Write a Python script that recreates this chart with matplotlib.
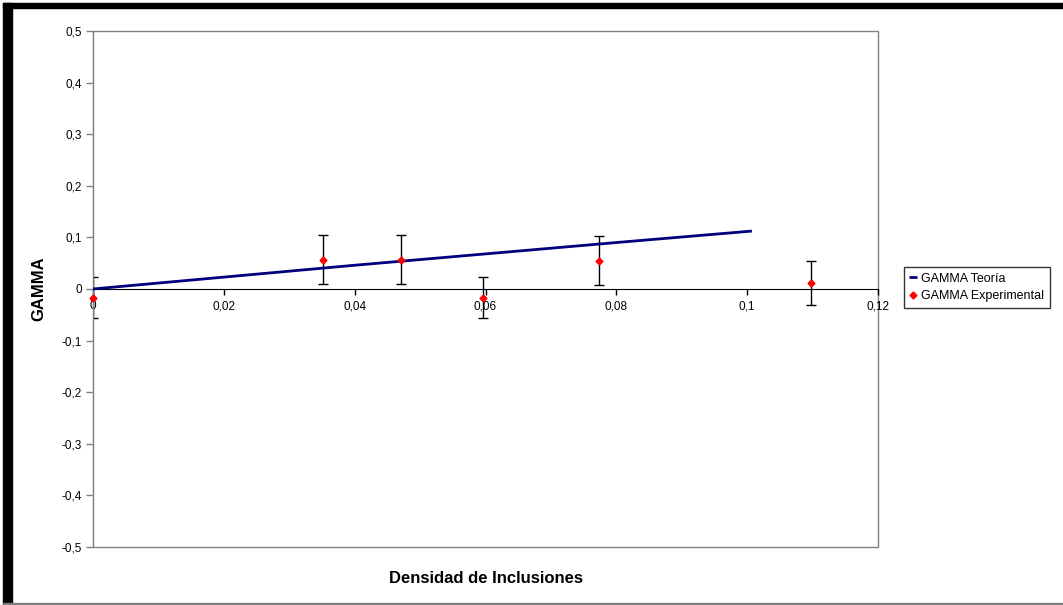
import matplotlib
matplotlib.use("Agg")
import matplotlib.pyplot as plt
from matplotlib.patches import Rectangle
from matplotlib.lines import Line2D
from matplotlib.ticker import FuncFormatter

plt.rcParams["font.family"] = ["Liberation Sans", "DejaVu Sans"]

# theoretical curve
theory_x = [0.0, 0.02, 0.04, 0.06, 0.08, 0.1005]
theory_y = [0.0, 0.023, 0.046, 0.068, 0.090, 0.112]

# measured values with uncertainty
exp_x = [0.0, 0.0352, 0.0471, 0.0596, 0.0773, 0.1098]
exp_y = [-0.017, 0.057, 0.057, -0.017, 0.055, 0.012]
exp_err = [0.040, 0.048, 0.048, 0.040, 0.048, 0.043]

x_ticks = [0, 0.02, 0.04, 0.06, 0.08, 0.1, 0.12]
y_ticks = [-0.5, -0.4, -0.3, -0.2, -0.1, 0, 0.1, 0.2, 0.3, 0.4, 0.5]


def comma(v, pos=None):
    s = f"{v:.2f}".rstrip("0").rstrip(".")
    if s in ("-0", ""):
        s = "0"
    return s.replace(".", ",")


fig = plt.figure(figsize=(10.63, 6.05), dpi=100)
ax = fig.add_axes([0.0875, 0.0959, 0.7385, 0.8529])

ax.plot(theory_x, theory_y, color="#000080", lw=2, zorder=3)
ax.errorbar(exp_x, exp_y, yerr=exp_err, fmt="none", ecolor="black", elinewidth=1,
            capsize=3.5, capthick=1, zorder=2)
ax.plot(exp_x, exp_y, linestyle="none", marker="D", ms=3.5, color="#ff0000",
        zorder=4, clip_on=False)

ax.set_xlim(0, 0.12)
ax.set_ylim(-0.5, 0.5)
ax.set_xticks(x_ticks)
ax.set_yticks(y_ticks)
ax.xaxis.set_major_formatter(FuncFormatter(comma))
ax.yaxis.set_major_formatter(FuncFormatter(comma))

for side in ("top", "right"):
    ax.spines[side].set_visible(False)
ax.spines["bottom"].set_position(("data", 0))
ax.spines["bottom"].set_color("black")
ax.spines["left"].set_color("#808080")
ax.add_patch(Rectangle((0, 0), 1, 1, transform=ax.transAxes, fill=False,
                       edgecolor="#808080", lw=1, clip_on=False, zorder=1))

ax.tick_params(axis="x", direction="out", length=4, width=1, color="black",
               labelsize=8.5, pad=4)
ax.tick_params(axis="y", direction="out", length=5, width=1, color="#808080",
               labelsize=8.5, pad=3)

ax.set_xlabel("Densidad de Inclusiones", fontsize=12, fontweight="bold")
ax.xaxis.set_label_coords(0.5, -0.047)
ax.set_ylabel("GAMMA", fontsize=12, fontweight="bold")
ax.yaxis.set_label_coords(-0.059, 0.5)

handles = [Line2D([], [], color="#000080", mew=2, marker="_", ms=6, linestyle="none"),
           Line2D([], [], color="#ff0000", marker="D", ms=3.5, linestyle="none")]
leg = fig.legend(handles, ["GAMMA Teoría", "GAMMA Experimental"],
                 loc="upper left", bbox_to_anchor=(904 / 1063, 1 - 267 / 605),
                 frameon=True, fancybox=False, fontsize=9, handlelength=0.6,
                 handletextpad=0.3, borderpad=0.45, labelspacing=0.45,
                 borderaxespad=0)
leg.get_frame().set_edgecolor("black")
leg.get_frame().set_linewidth(1)

# outer frame
fig.patches.append(Rectangle((3 / 1063, 1 - 8 / 605), 1, 5 / 605,
                             transform=fig.transFigure, color="black"))
fig.patches.append(Rectangle((3 / 1063, 0), 9 / 1063, 1 - 3 / 605,
                             transform=fig.transFigure, color="black"))
fig.patches.append(Rectangle((3 / 1063, 1 / 605), 1, 1 / 605,
                             transform=fig.transFigure, color="#808080"))

fig.savefig("out.png", dpi=100)
